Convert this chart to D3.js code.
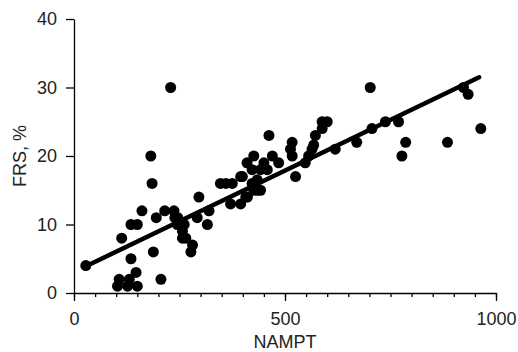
<!DOCTYPE html>
<html>
<head>
<meta charset="utf-8">
<script src="https://cdn.jsdelivr.net/npm/d3@7"></script>
<style>
  html, body { margin: 0; padding: 0; background: #fff; }
  svg text { font-family: "Liberation Sans", Arial, Helvetica, sans-serif; }
</style>
</head>
<body>
<svg id="chart" width="518" height="352"></svg>
<script>
// Data
const nampt = [28, 103, 107, 113, 127, 131, 135, 135, 147, 150, 150, 161, 185, 188, 182, 195, 206, 229,
  215, 237, 239, 245, 246, 257, 257, 261, 265, 281, 277, 292, 296, 316, 320, 347, 375, 371, 395, 411,
  434, 422, 399, 422, 407, 426, 434, 442, 458, 450, 410, 426, 470, 485, 462, 517, 513, 517, 525, 548,
  556, 564, 568, 572, 588, 588, 600, 619, 670, 702, 706, 738, 769, 777, 786, 885, 923, 934, 964, 395, 442, 360];
const frs = [4, 1, 2, 8, 1, 2, 5, 10, 3, 1, 10, 12, 16, 6, 20, 11, 2, 30,
  12, 12, 11, 10, 11, 9, 8, 10, 8, 7, 6, 11, 14, 10, 12, 16, 16, 13, 13, 14,
  15, 16, 17, 18, 14, 15, 16.5, 18, 18, 19, 19, 20, 20, 19, 23, 22, 21, 20, 17, 19,
  20, 21, 21.6, 23, 24, 25, 25, 21, 22, 30, 24, 25, 25, 20, 22, 22, 30, 29, 24, 17, 15, 16];
const fitX = [28, 960];
const fitY = [3.9, 31.5];
const xMajorTicks = [0, 500, 1000];
const xMinorTicks = d3.range(0, 1001, 50);
const yTicks = [0, 10, 20, 30, 40];
const xTitle = "NAMPT";
const yTitle = "FRS, %";

const svg = d3.select("#chart");
const x = d3.scaleLinear().domain([0, 1000]).range([74, 496]);
const y = d3.scaleLinear().domain([0, 40]).range([293, 19]);
const font = 18;

// Minor x ticks
svg.append("g")
  .attr("transform", `translate(0,${y(0)})`)
  .call(d3.axisBottom(x).tickValues(xMinorTicks).tickSize(4).tickSizeOuter(0).tickFormat(""))
  .call(g => g.select(".domain").remove())
  .call(g => g.selectAll("line").attr("stroke", "#000").attr("stroke-width", 1.3));

// Major x axis
svg.append("g")
  .attr("transform", `translate(0,${y(0)})`)
  .call(d3.axisBottom(x).tickValues(xMajorTicks).tickSize(8).tickSizeOuter(0).tickPadding(11).tickFormat(d3.format("d")))
  .call(g => g.select(".domain").attr("stroke", "#000").attr("stroke-width", 1.3))
  .call(g => g.selectAll("line").attr("stroke", "#000").attr("stroke-width", 1.3))
  .call(g => g.selectAll("text").attr("font-size", font).attr("fill", "#222")
    .attr("font-family", "'Liberation Sans', Arial, sans-serif"));

// y axis
svg.append("g")
  .attr("transform", `translate(${x(0)},0)`)
  .call(d3.axisLeft(y).tickValues(yTicks).tickSize(8).tickSizeOuter(0).tickPadding(9))
  .call(g => g.select(".domain").attr("stroke", "#000").attr("stroke-width", 1.3))
  .call(g => g.selectAll("line").attr("stroke", "#000").attr("stroke-width", 1.3))
  .call(g => g.selectAll("text").attr("font-size", font).attr("fill", "#222")
    .attr("font-family", "'Liberation Sans', Arial, sans-serif"));

// Points
svg.append("g").selectAll("circle")
  .data(nampt.map((v, i) => [v, frs[i]]))
  .join("circle")
  .attr("cx", d => x(d[0]))
  .attr("cy", d => y(d[1]))
  .attr("r", 5.5)
  .attr("fill", "#000");

// Regression line
svg.append("path")
  .datum(fitX.map((v, i) => [v, fitY[i]]))
  .attr("d", d3.line().x(d => x(d[0])).y(d => y(d[1])))
  .attr("stroke", "#000")
  .attr("stroke-width", 4.5)
  .attr("stroke-linecap", "round")
  .attr("fill", "none");

// Axis titles
svg.append("text")
  .attr("x", (x(0) + x(1000)) / 2)
  .attr("y", 348)
  .attr("text-anchor", "middle")
  .attr("font-size", font)
  .attr("fill", "#222")
  .text(xTitle);

svg.append("text")
  .attr("transform", `translate(26,${(y(0) + y(40)) / 2}) rotate(-90)`)
  .attr("text-anchor", "middle")
  .attr("font-size", font)
  .attr("fill", "#222")
  .text(yTitle);
</script>
</body>
</html>
